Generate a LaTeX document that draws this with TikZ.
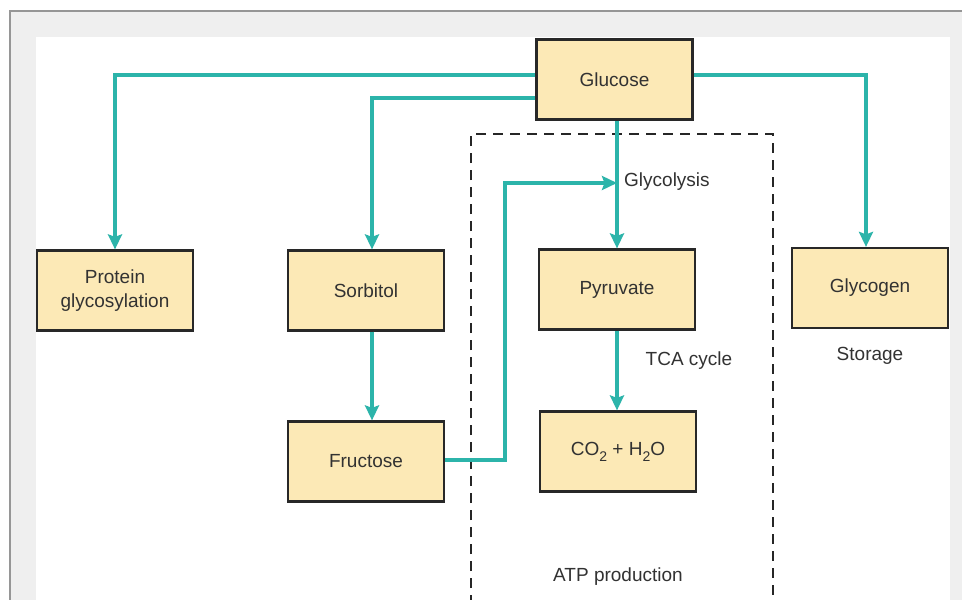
\documentclass[tikz,border=0pt]{standalone}
\usepackage{fontspec}
\setmainfont{Liberation Sans}
\usetikzlibrary{arrows.meta,calc}
\definecolor{teal1}{RGB}{44,180,170}
\definecolor{boxfill}{RGB}{252,233,182}
\definecolor{boxline}{RGB}{40,40,40}
\definecolor{txt}{RGB}{50,50,50}
\definecolor{panel}{RGB}{239,239,239}
\definecolor{frameline}{RGB}{150,150,150}
\newcommand{\sub}[1]{\raisebox{-6pt}{\fontsize{14}{14}\selectfont #1}}
\tikzset{
  stepbox/.style={draw=boxline, line width=2.2pt, fill=boxfill, minimum width=156pt, minimum height=80pt, inner sep=0pt, align=center, text=txt, font=\fontsize{19}{24}\selectfont},
  flow/.style={draw=teal1, line width=3.3pt, -{Stealth[length=15pt,width=14pt,inset=2.5pt]}},
  lbl/.style={text=txt, font=\fontsize{19}{23}\selectfont, inner sep=0pt},
  region/.style={draw=black!85, line width=2.2pt, dash pattern=on 10pt off 7pt}
}
\begin{document}
\begin{tikzpicture}[x=1pt,y=-1pt]
\useasboundingbox (0,0) rectangle (962,600);
% frame
\fill[white] (0,0) rectangle (962,600);
\fill[panel] (9,10) rectangle (962,600);
\draw[frameline, line width=1.5pt] (9.75,600) -- (9.75,10.75) -- (962,10.75);
\fill[white] (36,37) rectangle (950,600);
% dashed region
\draw[region] (471,605) -- (471,134) -- (773,134) -- (773,605);
% nodes
\node[stepbox] (glucose) at (614.5,79.5) {Glucose};
\node[stepbox] (protein) at (115,290.5) {Protein\\glycosylation};
\node[stepbox] (sorbitol) at (366,290.5) {Sorbitol};
\node[stepbox] (pyruvate) at (617,289.5) {Pyruvate};
\node[stepbox] (glycogen) at (870,288) {Glycogen};
\node[stepbox] (fructose) at (366,461.5) {Fructose};
\node[stepbox] (co2) at (618,451.5) {CO\sub{2} + H\sub{2}O};
% labels
\node[lbl, anchor=west] (glylbl) at (624,182) {Glycolysis};
\node[lbl] (tca) at (689,361) {TCA cycle};
\node[lbl] (storage) at (870,356) {Storage};
\node[lbl] (atp) at (618,577) {ATP production};
% connectors
\draw[flow] ([yshift=4.5pt]glucose.west) -| (protein.north);
\draw[flow] ([yshift=-18.5pt]glucose.west) -| ([xshift=6pt]sorbitol.north);
\draw[flow] ([yshift=4.5pt]glucose.east) -| ([xshift=-4pt]glycogen.north);
\draw[flow] ([xshift=2.5pt]glucose.south) -- (pyruvate.north);
\draw[flow] (pyruvate.south) -- (pyruvate.south |- co2.north);
\draw[flow] ([xshift=6pt]sorbitol.south) -- ([xshift=6pt]fructose.north);
\coordinate (gly) at (617,183);
\coordinate (bend) at (505,183);
\draw[flow] ([yshift=1.5pt]fructose.east) -| (bend) -- (gly);
\end{tikzpicture}
\end{document}
